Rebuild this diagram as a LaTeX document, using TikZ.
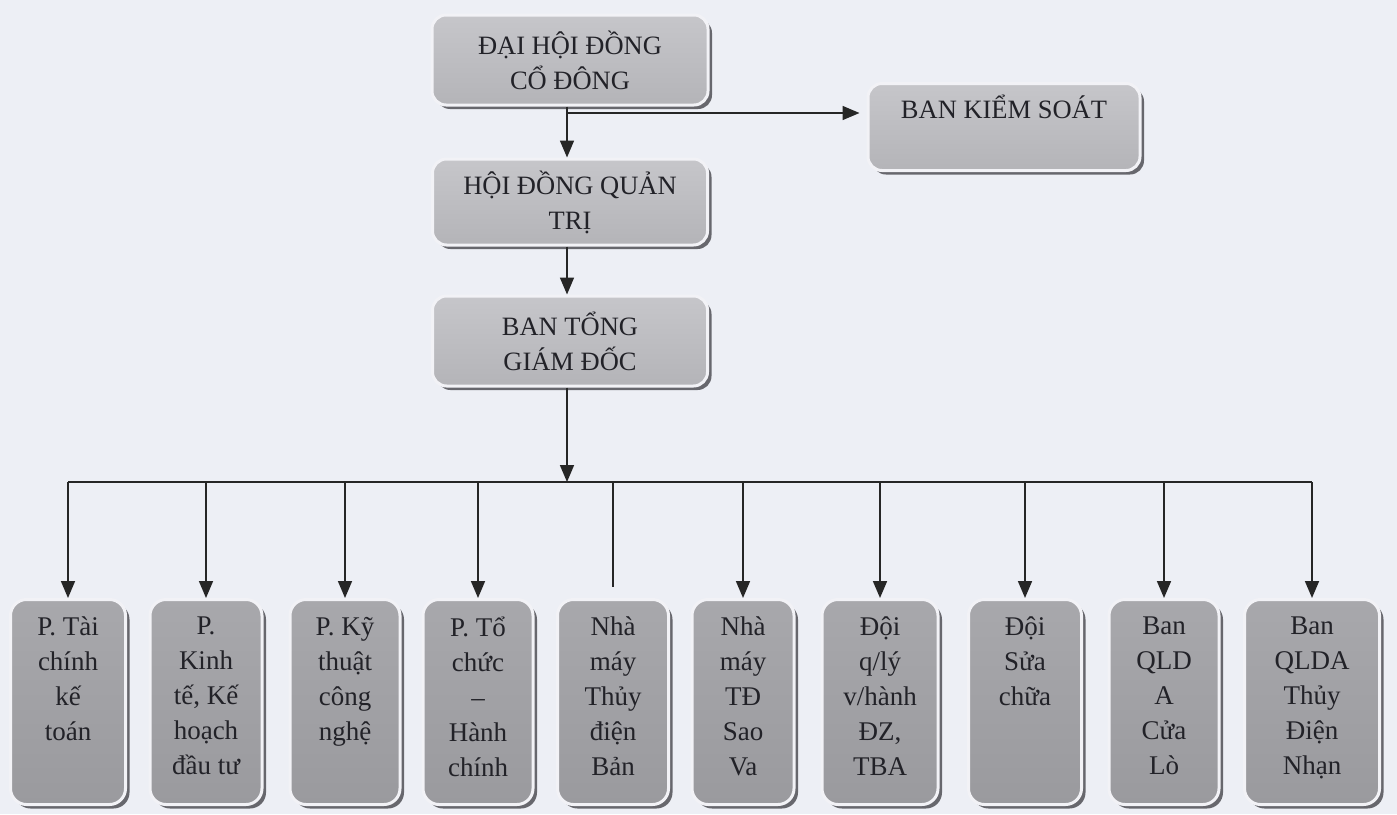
\documentclass[tikz,border=0pt]{standalone}
\usepackage{fontspec}
\setmainfont{Liberation Serif}
\usetikzlibrary{shadows,arrows.meta}
\definecolor{bg}{RGB}{237,239,245}
\definecolor{toptop}{RGB}{198,198,202}
\definecolor{topbot}{RGB}{180,180,184}
\definecolor{bottop}{RGB}{168,168,172}
\definecolor{botbot}{RGB}{154,154,158}
\definecolor{rim}{RGB}{242,242,246}
\definecolor{shade}{RGB}{80,80,86}
\definecolor{txt}{RGB}{34,34,40}
\begin{document}
\begin{tikzpicture}[x=1pt,y=-1pt,
  box/.style={rounded corners=14pt, draw=rim, line width=3pt, inner sep=0pt,
    drop shadow={shadow xshift=4pt,shadow yshift=-4pt,fill=shade,opacity=0.85}},
  topbox/.style={box, top color=toptop, bottom color=topbot, text=txt,
    font=\fontsize{26.5}{35}\selectfont, align=center},
  botbox/.style={box, rounded corners=16pt, top color=bottop, bottom color=botbot,
    minimum height=205pt},
  btxt/.style={anchor=north, inner sep=0pt, text=txt, align=center,
    font=\fontsize{27}{35}\selectfont},
  conn/.style={line width=1.7pt, black!85},
  arr/.style={conn, -{Triangle[length=17pt,width=14pt]}},
]
\fill[bg] (0,0) rectangle (1397,814);
\useasboundingbox (0,0) rectangle (1397,814);

% top boxes
\node[topbox, minimum width=276pt, minimum height=90pt] (dh) at (570,60) {ĐẠI HỘI ĐỒNG\\CỔ ĐÔNG};
\node[topbox, minimum width=275pt, minimum height=86pt] (hd) at (570,202) {HỘI ĐỒNG QUẢN\\TRỊ};
\node[topbox, minimum width=275pt, minimum height=90pt] (tgd) at (570,341) {BAN TỔNG\\GIÁM ĐỐC};
\node[topbox, minimum width=272pt, minimum height=87pt, text depth=40pt] (bks) at (1004,127) {BAN KIỂM SOÁT};

\coordinate (spine) at (567,0);
\coordinate (j) at (567,113);
\coordinate (bus) at (567,482);

\draw[arr] (dh.south -| spine) -- (hd.north -| spine);
\draw[arr, shorten >=7pt] (j) -- (j -| bks.west);
\draw[arr] (hd.south -| spine) -- (tgd.north -| spine);
\draw[arr] (tgd.south -| spine) -- (bus);

% bottom boxes
\node[botbox, minimum width=115pt] (c1) at (68,702) {};
\node[botbox, minimum width=112pt] (c2) at (206,702) {};
\node[botbox, minimum width=110pt] (c3) at (345,702) {};
\node[botbox, minimum width=110pt] (c4) at (478,702) {};
\node[botbox, minimum width=111pt] (c5) at (613,702) {};
\node[botbox, minimum width=102pt] (c6) at (743,702) {};
\node[botbox, minimum width=116pt] (c7) at (880,702) {};
\node[botbox, minimum width=113pt] (c8) at (1025,702) {};
\node[botbox, minimum width=110pt] (c9) at (1164,702) {};
\node[botbox, minimum width=135pt] (c10) at (1312,702) {};

\node[btxt] (t1) at ([yshift=-19pt]c1.north) {P. Tài\\chính\\kế\\toán};
\node[btxt] (t2) at ([yshift=-19pt]c2.north) {P.\\Kinh\\tế, Kế\\hoạch\\đầu tư};
\node[btxt] (t3) at ([yshift=-19pt]c3.north) {P. Kỹ\\thuật\\công\\nghệ};
\node[btxt] (t4) at ([yshift=-19pt]c4.north) {P. Tổ\\chức\\–\\Hành\\chính};
\node[btxt] (t5) at ([yshift=-19pt]c5.north) {Nhà\\máy\\Thủy\\điện\\Bản};
\node[btxt] (t6) at ([yshift=-19pt]c6.north) {Nhà\\máy\\TĐ\\Sao\\Va};
\node[btxt] (t7) at ([yshift=-19pt]c7.north) {Đội\\q/lý\\v/hành\\ĐZ,\\TBA};
\node[btxt] (t8) at ([yshift=-19pt]c8.north) {Đội\\Sửa\\chữa};
\node[btxt] (t9) at ([yshift=-19pt]c9.north) {Ban\\QLD\\A\\Cửa\\Lò};
\node[btxt] (t10) at ([yshift=-19pt]c10.north) {Ban\\QLDA\\Thủy\\Điện\\Nhạn};

% bus and drops
\draw[conn] (c1.north |- bus) -- (c10.north |- bus);
\foreach \i in {1,2,3,4,6,7,8,9,10}{
  \draw[arr] (c\i.north |- bus) -- (c\i.north);
}
\draw[conn, shorten >=11pt] (c5.north |- bus) -- (c5.north);
\end{tikzpicture}
\end{document}
